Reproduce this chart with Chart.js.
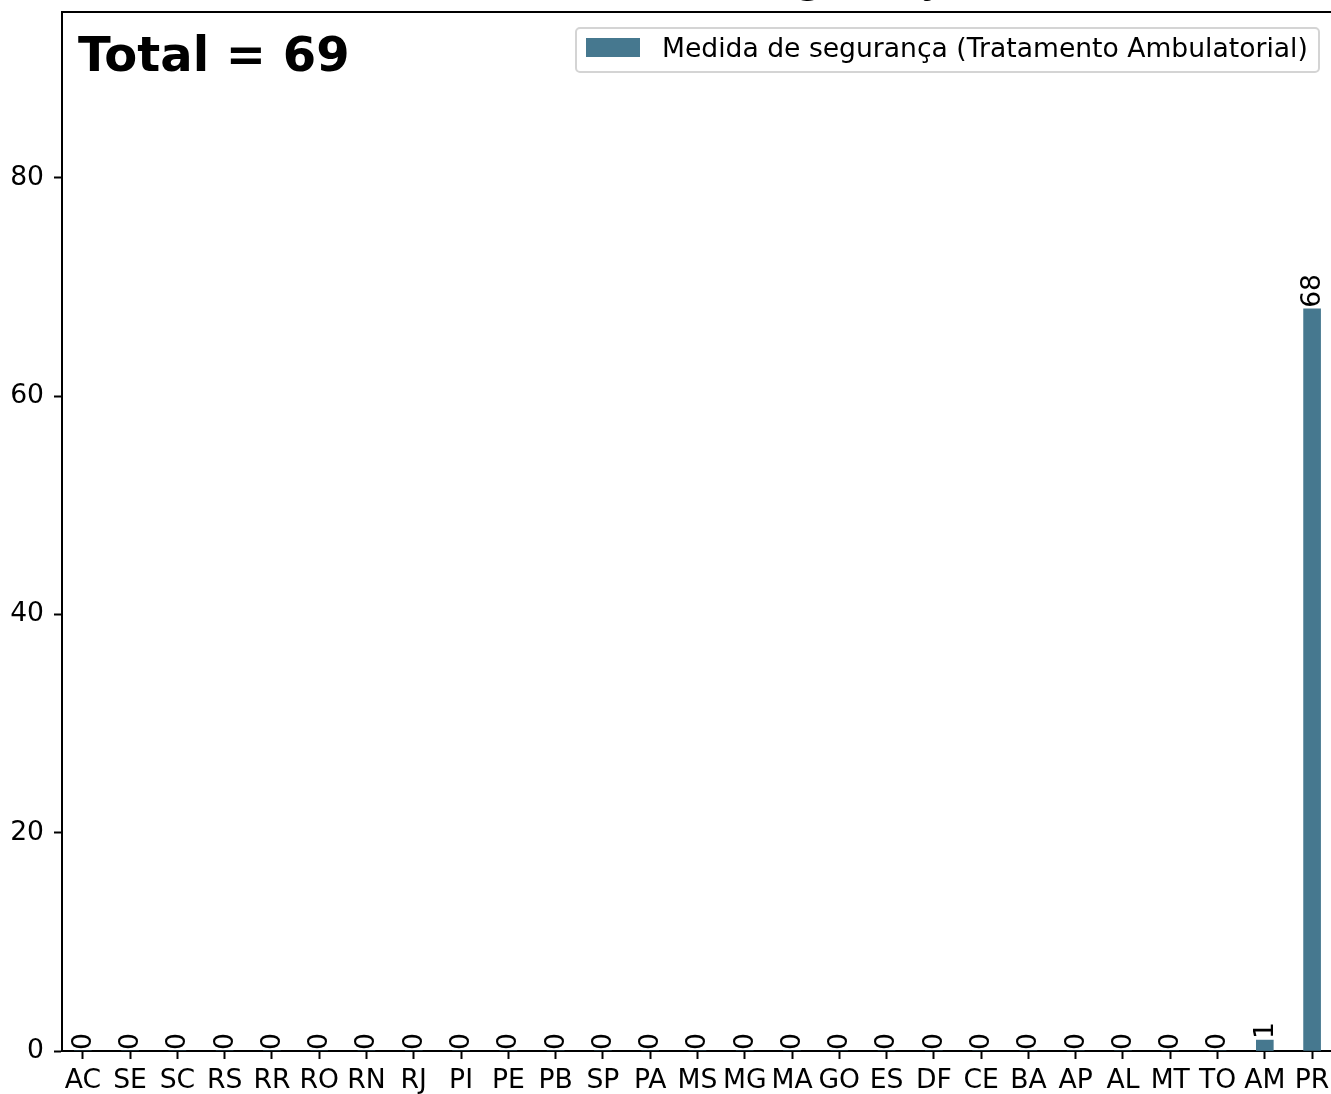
<!DOCTYPE html>
<html>
<head>
<meta charset="utf-8">
<script src="https://cdn.jsdelivr.net/npm/chart.js@4.4.1/dist/chart.umd.min.js"></script>
<style>
  html, body { margin: 0; padding: 0; background: #fff; }
  #box { width: 1331px; height: 1094px; position: relative; }
</style>
</head>
<body>
<div id="box"><canvas id="grafico" width="1331" height="1094"></canvas></div>
<script>
// dados
const estados = ['AC','SE','SC','RS','RR','RO','RN','RJ','PI','PE','PB','SP','PA','MS','MG','MA','GO','ES','DF','CE','BA','AP','AL','MT','TO','AM','PR'];
const valores = [0,0,0,0,0,0,0,0,0,0,0,0,0,0,0,0,0,0,0,0,0,0,0,0,0,1,68];
const yTicks = [0, 20, 40, 60, 80];
const serieNome = 'Medida de segurança (Tratamento Ambulatorial)';
const tituloTexto = 'Medida de segurança (Tratamento Ambulatorial)';
const total = valores.reduce((a, b) => a + b, 0);

const corBarra = '#46788f';
const fonte = 'DejaVu Sans';
const tam = 26.6;

// rótulos girados em cima das barras + textos extras
const extras = {
  id: 'extras',
  afterDatasetsDraw(chart) {
    const ctx = chart.ctx;
    const meta = chart.getDatasetMeta(0);
    ctx.save();
    ctx.fillStyle = '#000';
    ctx.font = tam + 'px "' + fonte + '"';
    ctx.textAlign = 'left';
    ctx.textBaseline = 'middle';
    meta.data.forEach((bar, i) => {
      ctx.save();
      ctx.translate(bar.x, bar.y - 1);
      ctx.rotate(-Math.PI / 2);
      ctx.fillText(String(valores[i]), 0, 1);
      ctx.restore();
    });
    ctx.restore();
  },
  afterDraw(chart) {
    const ctx = chart.ctx;
    const area = chart.chartArea;
    ctx.save();
    // spine de cima
    ctx.strokeStyle = '#000';
    ctx.lineWidth = 2;
    ctx.beginPath();
    ctx.moveTo(area.left - 1, area.top);
    ctx.lineTo(area.right, area.top);
    ctx.stroke();

    // título (só as descendentes aparecem no topo)
    ctx.fillStyle = '#000';
    ctx.font = 'bold 36px "' + fonte + '"';
    ctx.textBaseline = 'alphabetic';
    ctx.textAlign = 'left';
    const antes = ctx.measureText('Medida de se').width;
    ctx.fillText(tituloTexto, 797 - antes, -6);

    // Total
    ctx.font = 'bold 48px "' + fonte + '"';
    ctx.fillText('Total = ' + total, area.left + 16, area.top + 59);

    // legenda
    const bx = 576, by = 28, bw = 743, bh = 44;
    ctx.fillStyle = 'rgba(255,255,255,0.8)';
    ctx.strokeStyle = '#d4d4d4';
    ctx.lineWidth = 2;
    ctx.beginPath();
    ctx.roundRect(bx, by, bw, bh, 4);
    ctx.fill();
    ctx.stroke();
    ctx.fillStyle = corBarra;
    ctx.fillRect(bx + 10, by + 10, 54, 19);
    ctx.fillStyle = '#000';
    ctx.font = tam + 'px "' + fonte + '"';
    ctx.fillText(serieNome, bx + 86, by + 29);
    ctx.restore();
  }
};

const ctx = document.getElementById('grafico').getContext('2d');
new Chart(ctx, {
  type: 'bar',
  data: {
    datasets: [{
      label: serieNome,
      data: valores.map((v, i) => ({ x: i, y: v })),
      backgroundColor: corBarra,
      borderWidth: 0,
      barThickness: 17
    }]
  },
  options: {
    responsive: false,
    animation: false,
    devicePixelRatio: 1,
    layout: { padding: { top: 12, left: 0, right: 0, bottom: 0 } },
    plugins: {
      legend: { display: false },
      tooltip: { enabled: false }
    },
    scales: {
      x: {
        type: 'linear',
        offset: false,
        min: -0.44,
        max: 26.4,
        afterBuildTicks: (s) => { s.ticks = estados.map((_, i) => ({ value: i })); },
        afterFit: (s) => { s.height = 43; s.paddingLeft = 0; s.paddingRight = 0; },
        ticks: {
          autoSkip: false,
          maxRotation: 0,
          minRotation: 0,
          padding: 6,
          color: '#000',
          font: { family: fonte, size: tam },
          callback: (v) => estados[v]
        },
        grid: { offset: false, drawOnChartArea: false, drawTicks: true, tickLength: 8, tickWidth: 2, tickColor: '#000' },
        border: { display: true, color: '#000', width: 2 }
      },
      y: {
        min: 0,
        max: 95.2,
        afterBuildTicks: (s) => { s.ticks = yTicks.map(v => ({ value: v })); },
        afterFit: (s) => { s.width = 62; s.paddingTop = 0; s.paddingBottom = 0; },
        ticks: {
          padding: 10,
          color: '#000',
          font: { family: fonte, size: tam }
        },
        grid: { drawOnChartArea: false, drawTicks: true, tickLength: 8, tickWidth: 2, tickColor: '#000' },
        border: { display: true, color: '#000', width: 2 }
      }
    }
  },
  plugins: [extras]
});
</script>
</body>
</html>
